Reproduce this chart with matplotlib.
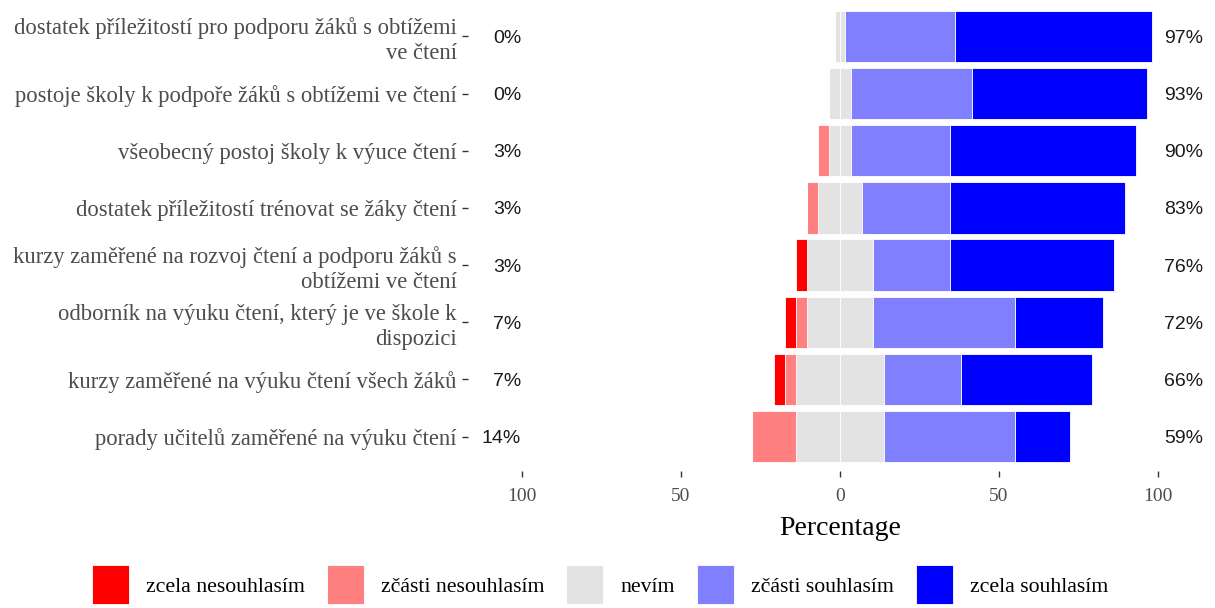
import numpy as np
import matplotlib.pyplot as plt
from matplotlib.patches import Patch

items = [
    "dostatek příležitostí pro podporu žáků s obtížemi\nve čtení",
    "postoje školy k podpoře žáků s obtížemi ve čtení",
    "všeobecný postoj školy k výuce čtení",
    "dostatek příležitostí trénovat se žáky čtení",
    "kurzy zaměřené na rozvoj čtení a podporu žáků s\nobtížemi ve čtení",
    "odborník na výuku čtení, který je ve škole k\ndispozici",
    "kurzy zaměřené na výuku čtení všech žáků",
    "porady učitelů zaměřené na výuku čtení",
]
levels = ["zcela nesouhlasím", "zčásti nesouhlasím", "nevím", "zčásti souhlasím", "zcela souhlasím"]
colors = ["#FF0000", "#FF8080", "#E3E3E3", "#8080FF", "#0000FF"]

# percentages per item, top to bottom
zcela_nes = [0, 0, 0, 0, 3.45, 3.45, 3.45, 0]
zcasti_nes = [0, 0, 3.45, 3.45, 0, 3.45, 3.45, 13.79]
nevim = [3.45, 6.90, 6.90, 13.79, 20.69, 20.69, 27.59, 27.59]
zcasti_sou = [34.48, 37.93, 31.03, 27.59, 24.14, 44.83, 24.14, 41.38]
zcela_sou = [62.07, 55.17, 58.62, 55.17, 51.72, 27.59, 41.38, 17.24]

serif = "Liberation Serif"
sans = "Liberation Sans"

fig = plt.figure(figsize=(12.15, 6.08), dpi=100)
ax = fig.add_axes([468 / 1215, 1 - 471 / 608, 744 / 1215, 469 / 608])

n = len(items)
y = np.arange(n, 0, -1)
h = 0.9
ec = dict(edgecolor="white", linewidth=0.6)

zn = np.array(zcela_nes)
cn = np.array(zcasti_nes)
ne = np.array(nevim)
cs = np.array(zcasti_sou)
zs = np.array(zcela_sou)

# neutral split around zero
ax.barh(y, -ne / 2, height=h, color=colors[2], **ec)
ax.barh(y, ne / 2, height=h, color=colors[2], **ec)
ax.barh(y, -cn, left=-ne / 2, height=h, color=colors[1], **ec)
ax.barh(y, -zn, left=-ne / 2 - cn, height=h, color=colors[0], **ec)
ax.barh(y, cs, left=ne / 2, height=h, color=colors[3], **ec)
ax.barh(y, zs, left=ne / 2 + cs, height=h, color=colors[4], **ec)

low = zn + cn
high = cs + zs
for yi, lo, hi in zip(y, low, high):
    ax.text(-100.3, yi, "%d%%" % round(lo), ha="right", va="center_baseline",
            fontsize=14, family=sans, color="#1A1A1A")
    ax.text(102, yi, "%d%%" % round(hi), ha="left", va="center_baseline",
            fontsize=14, family=sans, color="#1A1A1A")

ax.set_xlim(-117, 117)
ax.set_ylim(0.4, n + 0.6)
ax.set_xticks([-100, -50, 0, 50, 100])
ax.set_xticklabels(["100", "50", "0", "50", "100"])
ax.set_yticks(y)
ax.set_yticklabels(items, ha="right", multialignment="right")
for lab in ax.get_xticklabels():
    lab.set_family(serif)
    lab.set_fontsize(14)
    lab.set_color("#4D4D4D")
for lab in ax.get_yticklabels():
    lab.set_family(serif)
    lab.set_fontsize(16.3)
    lab.set_color("#4D4D4D")
    lab.set_linespacing(1.25)
ax.tick_params(axis="both", length=4, width=1, color="#333333")
ax.tick_params(axis="x", pad=8)
ax.tick_params(axis="y", pad=4)
for s in ax.spines.values():
    s.set_visible(False)
ax.set_xlabel("Percentage", family=serif, fontsize=20, labelpad=8)

handles = [Patch(facecolor=c, edgecolor="white", linewidth=0.6) for c in colors]
fig.legend(handles, levels, loc="center", bbox_to_anchor=(0.494, 0.038), ncol=5,
           frameon=False, prop={"family": serif, "size": 15.7},
           handlelength=1.69, handleheight=2.38, handletextpad=0.8, columnspacing=1.0)

plt.savefig("out.png", dpi=100)
